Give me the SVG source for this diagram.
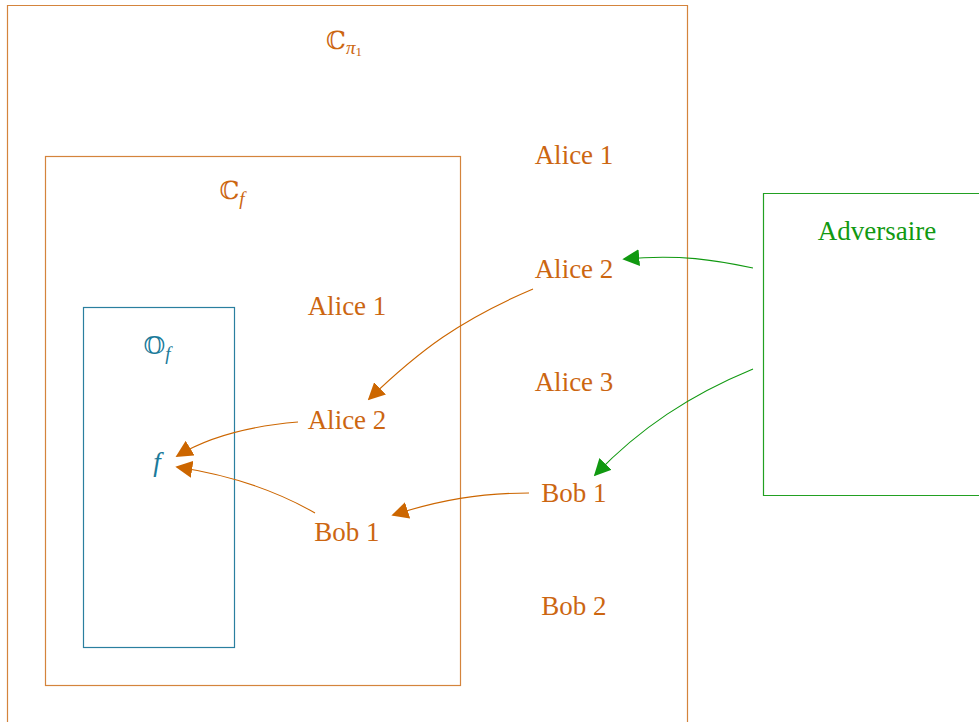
<svg xmlns="http://www.w3.org/2000/svg" width="979" height="722" viewBox="0 0 979 722">
<defs>
<style>
.t{font-family:"Liberation Serif",serif;font-size:27px;text-anchor:middle}
.or{fill:#cc6611}
.bl{fill:#1a7a9a}
.gr{fill:#119911}
.bb{font-family:"DejaVu Serif","DejaVu Sans",serif;font-size:25px}
.sub{font-size:19px;font-style:italic}
.box{fill:none;stroke-width:1.2}
.ca{fill:none;stroke-width:1.1}
</style>
<marker id="ao" viewBox="0 0 10 10" refX="9" refY="5" markerWidth="17" markerHeight="17" markerUnits="userSpaceOnUse" orient="auto"><path d="M0,0 L10,5 L0,10 Z" fill="#cc6600"/></marker>
<marker id="ag" viewBox="0 0 10 10" refX="9" refY="5" markerWidth="17" markerHeight="17" markerUnits="userSpaceOnUse" orient="auto"><path d="M0,0 L10,5 L0,10 Z" fill="#109910"/></marker>
</defs>
<rect width="979" height="722" fill="#fff"/>
<g id="cpi1">
<path d="M7.5,722 V5.5 H687.5 V722" class="box" stroke="#d4843c"/>
<text x="344" y="49" class="t or"><tspan class="bb">ℂ</tspan><tspan class="sub" dy="5">π</tspan><tspan font-size="13" dy="2">1</tspan></text>
<text x="574" y="164" class="t or">Alice 1</text>
<text x="574" y="278" class="t or">Alice 2</text>
<text x="574" y="391" class="t or">Alice 3</text>
<text x="574" y="502" class="t or">Bob 1</text>
<text x="574" y="615" class="t or">Bob 2</text>
</g>
<g id="cf">
<rect x="45.5" y="156.5" width="415" height="529" class="box" stroke="#d4843c"/>
<text x="232" y="199" class="t or"><tspan class="bb">ℂ</tspan><tspan class="sub" dy="6">f</tspan></text>
<text x="347" y="315" class="t or">Alice 1</text>
<text x="347" y="429" class="t or">Alice 2</text>
<text x="347" y="541" class="t or">Bob 1</text>
</g>
<g id="of">
<rect x="83.5" y="307.5" width="151" height="340" class="box" stroke="#2a7f9f"/>
<text x="157" y="354" class="t bl"><tspan class="bb">𝕆</tspan><tspan class="sub" dy="6">f</tspan></text>
<text x="157" y="471" class="t bl" font-style="italic">f</text>
</g>
<g id="adversaire">
<path d="M979,193.5 H763.5 V495.5 H979" class="box" stroke="#22a022"/>
<text x="877" y="240" class="t gr">Adversaire</text>
</g>
<g id="connectors">
<path d="M753,268 C715,260 680,254 624,259" class="ca" stroke="#119911" marker-end="url(#ag)"/>
<path d="M753,369 C690,395 640,428 595,475" class="ca" stroke="#119911" marker-end="url(#ag)"/>
<path d="M533,289 C460,320 420,350 369,399" class="ca" stroke="#cc6600" marker-end="url(#ao)"/>
<path d="M298,422 C250,426 210,436 177,456" class="ca" stroke="#cc6600" marker-end="url(#ao)"/>
<path d="M315,513 C275,490 230,475 177,467" class="ca" stroke="#cc6600" marker-end="url(#ao)"/>
<path d="M529,493 C480,493 440,500 393,515" class="ca" stroke="#cc6600" marker-end="url(#ao)"/>
</g>
</svg>
